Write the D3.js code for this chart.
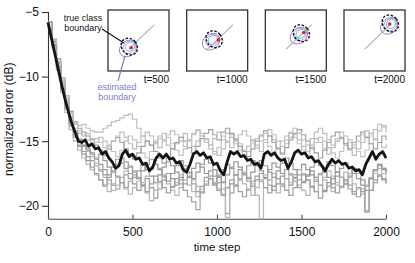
<!DOCTYPE html>
<html>
<head>
<meta charset="utf-8">
<script src="https://cdn.jsdelivr.net/npm/d3@7"></script>
<style>
  body { margin: 0; background: #fff; }
  svg { display: block; font-family: "Liberation Sans", Arial, sans-serif; }
</style>
</head>
<body>
<div id="chart"></div>
<script>
// ---- data ----
let stepGray = 25;   // time steps between gray samples
let stepMean = 20;   // time steps between mean samples

let xTicks = [0, 500, 1000, 1500, 2000];
let yTicks = [-5, -10, -15, -20];

let meanRun = [
    -5.8, -7.0, -8.2, -9.4, -10.6, -11.7, -12.7, -13.6, -14.3, -15.0,
    -15.1, -14.9, -15.4, -15.2, -15.6, -15.5, -16.0, -15.8, -16.3, -16.6,
    -17.1, -16.9, -16.0, -15.7, -16.2, -16.0, -16.4, -16.3, -16.8, -16.7,
    -17.3, -17.0, -16.3, -16.0, -16.3, -16.0, -16.4, -16.3, -16.7, -16.6,
    -17.2, -17.4, -16.8, -16.0, -15.8, -16.1, -15.9, -16.3, -16.2, -16.8,
    -16.7, -17.3, -17.6, -16.6, -15.8, -16.0, -15.8, -16.2, -16.1, -16.5,
    -16.4, -16.8, -16.7, -17.1, -16.0, -15.8, -16.1, -15.9, -16.3, -16.5,
    -16.4, -17.1, -16.6, -15.9, -15.7, -16.0, -15.9, -16.3, -16.2, -16.6,
    -16.5, -16.9, -17.3, -16.8, -16.4, -16.7, -16.5, -16.8, -16.7, -17.1,
    -17.0, -17.3, -17.2, -17.6, -16.8, -16.3, -15.8, -16.4, -16.0, -15.8,
    -16.3
];

let run1 = [
    -5.8, -7.3, -8.9, -10.4, -11.8, -12.9, -13.6, -13.8, -13.7, -14.0,
    -14.2, -14.3, -14.3, -14.0, -13.8, -13.5, -13.4, -13.2, -13.0, -12.9,
    -13.3, -14.0, -14.6, -15.0, -15.3, -15.0, -14.6, -14.9, -15.3, -15.6,
    -15.2, -14.7, -14.4, -14.9, -15.4, -15.0, -14.6, -14.8, -15.3, -15.8,
    -16.1, -15.6, -15.0, -14.5, -14.8, -15.2, -15.7, -15.4, -14.9, -15.3,
    -15.8, -15.1, -14.6, -14.9, -15.5, -15.9, -15.2, -14.7, -14.5, -14.9,
    -15.4, -15.8, -15.3, -14.8, -15.1, -15.6, -16.0, -15.5, -15.0, -14.8,
    -15.2, -15.7, -16.1, -15.6, -15.1, -14.7, -14.4, -14.9, -14.2, -13.8,
    -14.0
];
let run2 = [
    -5.8, -7.6, -9.3, -11.0, -12.5, -13.8, -14.7, -15.3, -15.8, -16.2,
    -16.5, -16.9, -17.3, -17.6, -18.0, -18.4, -18.7, -18.2, -17.6, -17.9,
    -18.3, -18.8, -18.4, -17.9, -18.6, -19.4, -18.7, -18.0, -17.5, -17.9,
    -18.4, -18.0, -17.4, -17.8, -18.3, -18.9, -18.5, -17.8, -17.3, -17.7,
    -18.2, -18.7, -20.6, -18.3, -17.6, -17.2, -17.6, -18.1, -18.5, -18.0,
    -17.5, -17.9, -18.4, -18.8, -18.3, -17.7, -17.2, -17.6, -18.1, -18.6,
    -18.2, -17.7, -17.3, -17.8, -18.4, -18.9, -18.5, -17.9, -17.4, -17.8,
    -18.3, -18.7, -19.1, -18.6, -18.9, -20.4, -18.8, -18.0, -17.6, -17.9,
    -18.2
];
let run3 = [
    -5.8, -7.2, -8.8, -10.3, -11.7, -12.8, -13.7, -14.4, -14.6, -14.9,
    -15.2, -14.8, -15.1, -15.5, -15.3, -15.8, -16.2, -15.7, -15.0, -14.6,
    -14.9, -15.4, -15.9, -16.3, -15.8, -15.2, -14.8, -14.4, -14.7, -15.2,
    -15.7, -16.1, -15.6, -15.0, -14.5, -14.2, -14.6, -15.1, -15.6, -16.0,
    -15.5, -14.9, -14.4, -14.7, -15.2, -15.7, -16.2, -15.8, -15.2, -14.8,
    -14.5, -14.9, -15.4, -15.9, -15.5, -15.0, -14.6, -14.3, -14.7, -15.2,
    -15.7, -16.1, -15.6, -15.1, -14.7, -15.0, -15.5, -15.9, -16.3, -15.8,
    -15.3, -14.9, -15.3, -15.8, -16.2, -15.7, -15.2, -14.8, -15.1, -15.5,
    -15.2
];
let run4 = [
    -5.8, -7.5, -9.1, -10.7, -12.2, -13.4, -14.3, -15.0, -15.4, -15.7,
    -16.0, -16.4, -16.8, -17.2, -17.6, -17.0, -16.4, -16.7, -17.1, -17.5,
    -17.8, -17.3, -16.8, -17.2, -17.7, -18.2, -17.6, -17.0, -16.6, -16.9,
    -17.4, -17.8, -18.3, -17.7, -17.1, -16.7, -17.0, -17.5, -17.9, -18.4,
    -17.8, -17.2, -16.8, -17.1, -17.6, -18.0, -17.5, -16.9, -16.5, -16.9,
    -17.3, -17.8, -17.2, -16.7, -17.0, -17.5, -17.9, -18.4, -17.8, -17.2,
    -16.8, -17.2, -17.6, -18.1, -17.5, -17.0, -16.6, -16.9, -17.4, -17.8,
    -18.3, -17.7, -17.2, -17.5, -18.0, -18.5, -17.9, -17.3, -16.9, -17.2,
    -17.5
];
let run5 = [
    -5.8, -7.4, -9.0, -10.5, -11.9, -13.1, -14.0, -14.8, -15.3, -15.8,
    -16.2, -16.7, -17.2, -17.8, -18.3, -18.8, -18.4, -17.8, -17.3, -16.9,
    -17.3, -17.8, -18.2, -17.7, -17.2, -16.8, -17.1, -17.6, -18.1, -18.6,
    -18.2, -17.6, -17.1, -17.5, -18.0, -18.5, -18.9, -18.3, -17.7, -17.2,
    -17.6, -18.1, -18.6, -19.0, -18.5, -17.9, -17.4, -17.8, -18.3, -19.2,
    -21.0, -18.6, -18.0, -17.5, -17.9, -18.4, -18.8, -18.2, -17.6, -17.2,
    -17.5, -18.0, -18.5, -18.9, -18.4, -17.8, -17.3, -17.7, -18.2, -18.6,
    -18.1, -17.5, -17.1, -17.5, -18.0, -18.4, -17.8, -17.2, -16.8, -17.1,
    -17.4
];
let run6 = [
    -5.8, -7.1, -8.6, -10.1, -11.5, -12.7, -13.5, -14.0, -14.3, -14.6,
    -14.9, -15.3, -15.7, -16.1, -15.6, -15.0, -14.7, -15.1, -15.6, -16.0,
    -16.4, -15.9, -15.4, -15.0, -15.3, -15.8, -16.3, -16.7, -16.2, -15.6,
    -15.1, -14.7, -15.0, -15.5, -15.9, -15.4, -14.8, -14.4, -14.1, -14.5,
    -14.9, -14.3, -14.0, -14.4, -14.9, -15.4, -15.8, -16.2, -15.6, -15.0,
    -14.6, -14.2, -14.6, -15.1, -15.6, -16.0, -15.5, -14.9, -14.4, -14.1,
    -14.5, -15.0, -15.5, -15.9, -16.3, -15.7, -15.1, -14.6, -14.3, -14.7,
    -15.2, -15.6, -15.1, -14.6, -14.3, -14.7, -15.2, -15.6, -15.1, -14.6,
    -14.9
];
let run7 = [
    -5.8, -7.7, -9.5, -11.2, -12.8, -14.1, -15.0, -15.7, -16.3, -16.8,
    -17.2, -17.6, -18.0, -18.5, -18.9, -18.3, -17.8, -18.2, -18.7, -19.1,
    -18.6, -18.1, -18.5, -19.0, -19.6, -18.8, -18.2, -17.8, -18.3, -18.8,
    -19.2, -18.6, -18.0, -18.4, -18.9, -19.3, -18.7, -18.1, -17.7, -18.2,
    -18.7, -19.1, -20.9, -19.0, -18.4, -17.9, -18.3, -18.8, -19.2, -18.6,
    -18.0, -17.6, -18.0, -18.5, -19.0, -18.5, -17.9, -17.5, -17.9, -18.4,
    -18.8, -19.2, -18.6, -18.0, -17.6, -18.0, -18.5, -18.9, -18.4, -17.8,
    -17.4, -17.8, -18.3, -18.7, -19.1, -18.5, -17.9, -17.5, -17.1, -17.5,
    -17.8
];
let run8 = [
    -5.8, -7.3, -8.9, -10.5, -12.0, -13.2, -14.2, -14.9, -15.3, -15.6,
    -15.9, -16.3, -16.0, -16.5, -17.0, -17.4, -16.8, -16.3, -16.6, -17.0,
    -17.4, -17.9, -17.3, -16.8, -16.4, -16.8, -17.2, -17.7, -18.1, -17.5,
    -16.9, -16.5, -16.9, -17.4, -17.9, -17.4, -16.8, -16.4, -16.7, -17.2,
    -17.7, -18.2, -17.6, -17.0, -16.6, -17.0, -17.5, -17.9, -17.4, -16.9,
    -16.5, -16.9, -17.4, -17.8, -17.3, -16.7, -16.3, -16.7, -17.2, -17.6,
    -18.1, -17.6, -17.0, -16.6, -16.9, -17.4, -17.8, -18.3, -17.7, -17.1,
    -16.7, -17.0, -17.5, -17.9, -18.4, -18.8, -17.9, -17.2, -16.8, -17.1,
    -17.4
];
let run9 = [
    -5.8, -7.2, -8.7, -10.2, -11.6, -12.8, -13.6, -14.2, -14.5, -14.4,
    -14.8, -15.1, -14.7, -15.0, -15.4, -15.0, -14.6, -14.3, -14.7, -15.2,
    -15.6, -15.1, -14.6, -14.3, -14.6, -15.1, -15.5, -15.0, -14.5, -14.2,
    -14.5, -15.0, -15.4, -14.9, -14.4, -14.1, -14.4, -14.9, -15.3, -14.8,
    -14.3, -14.6, -15.1, -15.5, -15.0, -14.5, -14.2, -14.6, -15.0, -15.5,
    -15.0, -14.4, -14.1, -14.5, -15.0, -15.4, -14.9, -14.4, -14.0, -14.4,
    -14.9, -15.3, -14.8, -14.3, -14.0, -14.4, -14.9, -15.3, -14.8, -14.3,
    -14.6, -15.1, -15.5, -15.0, -14.5, -14.2, -14.6, -14.1, -13.7, -13.9,
    -14.3
];
let run10 = [
    -5.8, -7.6, -9.2, -10.9, -12.4, -13.6, -14.6, -15.4, -16.0, -16.5,
    -17.0, -17.5, -18.0, -18.4, -17.8, -17.3, -17.7, -18.2, -18.6, -18.1,
    -17.6, -17.9, -18.4, -18.9, -18.3, -17.7, -18.1, -18.6, -19.0, -18.5,
    -17.9, -18.3, -18.8, -19.3, -19.7, -20.3, -19.0, -18.4, -17.9, -18.3,
    -18.8, -19.2, -18.6, -18.0, -18.4, -18.9, -19.3, -18.7, -18.1, -17.7,
    -18.1, -18.6, -19.0, -18.5, -17.9, -18.3, -18.8, -19.2, -18.6, -18.0,
    -17.6, -18.0, -18.5, -18.9, -19.4, -18.8, -18.2, -18.6, -19.0, -18.5,
    -18.0, -18.4, -18.9, -19.3, -18.7, -20.5, -18.8, -18.2, -17.7, -18.0,
    -18.3
];
let grayRuns = [run1, run2, run3, run4, run5, run6, run7, run8, run9, run10];
let grayShades = ["#bdbdbd", "#9c9c9c", "#c2c2c2", "#989898", "#b8b8b8",
                  "#a2a2a2", "#b5b5b5", "#9a9a9a", "#c0c0c0", "#a0a0a0"];

// insets: snapshots of the class boundary (unit coords inside each box)
let insetTimes = [500, 1000, 1500, 2000];
let trueCenter = [[0.35, 0.40], [0.45, 0.52], [0.59, 0.62], [0.76, 0.78]];
let estCenter  = [[0.33, 0.37], [0.40, 0.48], [0.55, 0.58], [0.74, 0.74]];
let redDot     = [[0.38, 0.38], [0.52, 0.51], [0.63, 0.63], [0.75, 0.77]];
let guideLine  = [[0.34, 0.36], [0.76, 0.76]];

// ---- layout ----
let W = 415, H = 263;
let margin = { "top": 12, "bottom": 44.3, "right": 29, "left": 48 };
let width = W - margin.left - margin.right;
let height = H - margin.top - margin.bottom;
let fontFamily = '"Liberation Sans", Arial, sans-serif';

let svg = d3.select('#chart')
    .append('svg')
    .attr('width', W)
    .attr('height', H);

let xScale = d3.scaleLinear()
    .domain([0, 2000])
    .range([margin.left, margin.left + width]);
let yScale = d3.scaleLinear()
    .domain([-21, -5])
    .range([margin.top + height, margin.top]);

// y axis
let yAxis = svg.append('g')
    .attr('transform', 'translate(' + margin.left + ',0)')
    .call(d3.axisLeft(yScale)
        .tickValues(yTicks)
        .tickSize(6)
        .tickPadding(3)
        .tickFormat(function (d) { return String(d).replace('-', '\u2212'); }));
yAxis.select('.domain')
    .attr('d', 'M0.5,' + yScale(-5) + 'V' + yScale(-21));
yAxis.selectAll('line').attr('stroke', '#333').attr('stroke-width', 1.1);
yAxis.select('.domain').attr('stroke', '#333').attr('stroke-width', 1.1);
yAxis.selectAll('text').attr('font-size', 12).attr('fill', '#111')
    .attr('font-family', fontFamily);

// x axis (ticks point into the plot)
let xAxis = svg.append('g')
    .attr('transform', 'translate(0,' + (margin.top + height) + ')')
    .call(d3.axisBottom(xScale)
        .tickValues(xTicks)
        .tickSizeInner(-4)
        .tickSizeOuter(0)
        .tickPadding(9)
        .tickFormat(d3.format('d')));
xAxis.selectAll('line').attr('stroke', '#444').attr('stroke-width', 1.1);
xAxis.select('.domain').attr('stroke', '#444').attr('stroke-width', 1.1);
xAxis.selectAll('text').attr('font-size', 12).attr('fill', '#111')
    .attr('font-family', fontFamily);

svg.append('text')
    .attr('x', xScale(1000))
    .attr('y', 251)
    .attr('text-anchor', 'middle')
    .attr('font-size', 11.5)
    .attr('fill', '#111')
    .text('time step');

svg.append('text')
    .attr('transform', 'translate(13,' + yScale(-13.3) + ') rotate(-90)')
    .attr('text-anchor', 'middle')
    .attr('font-size', 12)
    .attr('fill', '#111')
    .text('normalized error (dB)');

// gray individual runs
let stepLine = d3.line()
    .x(function (d, i) { return xScale(i * stepGray); })
    .y(function (d) { return yScale(d); })
    .curve(d3.curveStepAfter);

svg.append('g')
    .selectAll('path')
    .data(grayRuns)
    .enter()
    .append('path')
    .attr('d', stepLine)
    .attr('fill', 'none')
    .attr('stroke', function (d, i) { return grayShades[i]; })
    .attr('stroke-width', 1.2);

// mean run
let meanLine = d3.line()
    .x(function (d, i) { return xScale(i * stepMean); })
    .y(function (d) { return yScale(d); });

svg.append('path')
    .attr('d', meanLine(meanRun))
    .attr('fill', 'none')
    .attr('stroke', '#151515')
    .attr('stroke-width', 2.8)
    .attr('stroke-linejoin', 'round');

// ---- insets ----
let boxSize = 61;
let boxX = d3.scalePoint()
    .domain(insetTimes)
    .range([108, 344]);
let unit = d3.scaleLinear().domain([0, 1]).range([0, boxSize]);
let unitY = d3.scaleLinear().domain([0, 1]).range([boxSize, 0]);

let insets = svg.append('g')
    .selectAll('g')
    .data(insetTimes)
    .enter()
    .append('g')
    .attr('transform', function (d) { return 'translate(' + boxX(d) + ',10)'; });

insets.append('rect')
    .attr('width', boxSize)
    .attr('height', boxSize)
    .attr('fill', '#fff')
    .attr('stroke', '#333')
    .attr('stroke-width', 1.3);

insets.append('line')
    .attr('x1', unit(guideLine[0][0])).attr('y1', unitY(guideLine[0][1]))
    .attr('x2', unit(guideLine[1][0])).attr('y2', unitY(guideLine[1][1]))
    .attr('stroke', '#b0b0b0')
    .attr('stroke-width', 1.1);

// estimated boundary contours
insets.append('ellipse')
    .attr('transform', function (d, i) {
        return 'translate(' + unit(estCenter[i][0]) + ',' + unitY(estCenter[i][1]) + ') rotate(-40)';
    })
    .attr('rx', 9.5).attr('ry', 7.5)
    .attr('fill', 'none').attr('stroke', '#a877cc').attr('stroke-width', 0.9);
insets.append('ellipse')
    .attr('transform', function (d, i) {
        return 'translate(' + unit(estCenter[i][0] + 0.02) + ',' + unitY(estCenter[i][1] + 0.02) + ') rotate(-40)';
    })
    .attr('rx', 7).attr('ry', 5.8)
    .attr('fill', 'none').attr('stroke', '#b58ad6').attr('stroke-width', 0.8);
insets.append('ellipse')
    .attr('transform', function (d, i) {
        return 'translate(' + unit(estCenter[i][0] + 0.03) + ',' + unitY(estCenter[i][1] + 0.03) + ') rotate(-40)';
    })
    .attr('rx', 5).attr('ry', 4.2)
    .attr('fill', 'none').attr('stroke', '#4ec3ea').attr('stroke-width', 0.9);

// true class boundary
insets.append('ellipse')
    .attr('transform', function (d, i) {
        return 'translate(' + unit(trueCenter[i][0]) + ',' + unitY(trueCenter[i][1]) + ') rotate(-40)';
    })
    .attr('rx', 7.5).attr('ry', 9)
    .attr('fill', 'none').attr('stroke', '#111').attr('stroke-width', 1.4)
    .attr('stroke-dasharray', '2.5,1.6');

insets.append('circle')
    .attr('cx', function (d, i) { return unit(redDot[i][0]); })
    .attr('cy', function (d, i) { return unitY(redDot[i][1]); })
    .attr('r', 1.8)
    .attr('fill', '#ee1c24');

insets.append('text')
    .attr('x', boxSize)
    .attr('y', 73)
    .attr('text-anchor', 'end')
    .attr('font-size', 10)
    .attr('fill', '#111')
    .text(function (d) { return 't=' + d; });

// annotations for the first inset
let note = svg.append('g').attr('font-size', 9);
note.append('text').attr('x', 83).attr('y', 20.5).attr('text-anchor', 'middle')
    .attr('fill', '#111').text('true class');
note.append('text').attr('x', 83).attr('y', 30.5).attr('text-anchor', 'middle')
    .attr('fill', '#111').text('boundary');
note.append('line')
    .attr('x1', 102).attr('y1', 29).attr('x2', 124).attr('y2', 43)
    .attr('stroke', '#111').attr('stroke-width', 1.1);

note.append('text').attr('x', 117).attr('y', 90).attr('text-anchor', 'middle')
    .attr('fill', '#7b7ed0').text('estimated');
note.append('text').attr('x', 117).attr('y', 100).attr('text-anchor', 'middle')
    .attr('fill', '#7b7ed0').text('boundary');
note.append('line')
    .attr('x1', 118).attr('y1', 81).attr('x2', 125).attr('y2', 56)
    .attr('stroke', '#7075c8').attr('stroke-width', 1.1);
</script>
</body>
</html>
